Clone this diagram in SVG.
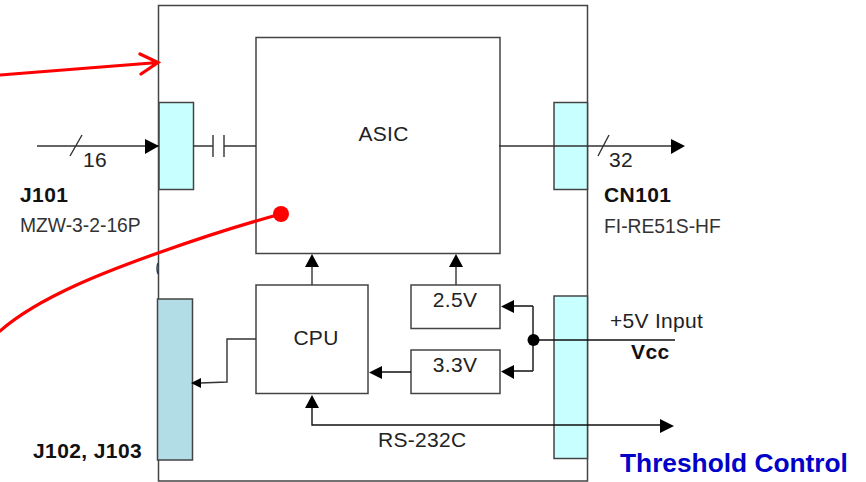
<svg xmlns="http://www.w3.org/2000/svg" width="866" height="482" viewBox="0 0 866 482">
<style>
.b{fill:#fff;stroke:#444;stroke-width:1.5}
.c{fill:#c8ffff;stroke:#444;stroke-width:1.5}
.l{fill:none;stroke:#333;stroke-width:1.4}
.k{fill:none;stroke:#111;stroke-width:1.4}
.h{fill:#000;stroke:none}
.r{fill:none;stroke:#f00;stroke-width:3.2;stroke-linecap:round}
text{font-family:"Liberation Sans",Arial,sans-serif;font-size:21px;fill:#222;letter-spacing:.3px}
.n{font-weight:bold;fill:#111;letter-spacing:.4px}
.s{font-size:19.300px;fill:#333;letter-spacing:0}
</style>
<g id="enclosure"><rect class="b" x="158.500" y="5.500" width="429" height="475.500"/></g>
<g id="asic"><rect class="b" x="256" y="37.500" width="244" height="216"/><text x="383.500" y="141" text-anchor="middle">ASIC</text></g>
<g id="cpu"><rect class="b" x="256" y="285" width="112" height="108.500"/><text x="316" y="345" text-anchor="middle">CPU</text></g>
<g id="reg25"><rect class="b" x="411" y="285" width="89" height="43.500"/><text x="455" y="307" text-anchor="middle">2.5V</text></g>
<g id="reg33"><rect class="b" x="411" y="350" width="89" height="43.500"/><text x="455" y="372" text-anchor="middle">3.3V</text></g>
<g id="j101"><rect class="c" x="159" y="102.500" width="34.500" height="87"/></g>
<g id="cn101"><rect class="c" x="554" y="102.500" width="33.500" height="87"/></g>
<g id="j102"><rect x="157.500" y="299" width="35" height="161" fill="#b3dde6" stroke="#444" stroke-width="1.500"/></g>
<g id="power"><rect class="c" x="554" y="296" width="33.500" height="162.500"/></g>
<g id="connectors">
<path class="l" d="M37 146H159M193 146H213M224 146H256M213 135V157M224 135V157M70 156L82 135"/>
<path class="h" d="M145 139L159 146L145 154Z"/>
<path class="l" d="M499 146H672M598 156L609 135"/>
<path class="h" d="M671 139L685 146L671 154Z"/>
<path class="l" d="M312 285V266M456 285V266M256 339H227V382L200 383"/>
<path class="h" d="M305 267L312 254L319 267ZM449 267L456 254L463 267ZM201 378L191 383L201 388Z"/>
<path class="k" d="M533 340H675M533 306V371M533 306H513M533 371H513M411 372H381M312 405V425H661"/>
<path class="h" d="M514 300L501 306.500L514 313ZM514 365L501 371.500L514 379ZM382 366L369 372.500L382 379ZM305 408L312 395L319 408ZM660 419L674 426L660 433Z"/>
<circle class="h" cx="533.500" cy="340" r="6"/>
<path d="M158 263Q156 268 158 274" fill="none" stroke="#1f3f66" stroke-width="1.500"/>
<path class="r" d="M0 75L158 62.500M140 54L158 62.500L141 74"/>
<path class="r" d="M0 331C40 296 110 270 158 253C200 238 240 225 281 214"/>
<circle cx="281" cy="214" r="8" fill="#f00"/>
</g>
<g id="labels">
<text x="83" y="167">16</text>
<text x="609" y="167">32</text>
<text class="n" x="20" y="202">J101</text>
<text class="s" x="20" y="232">MZW-3-2-16P</text>
<text class="n" x="604" y="202">CN101</text>
<text class="s" x="604" y="233">FI-RE51S-HF</text>
<text class="n" x="33" y="458">J102, J103</text>
<text x="610" y="328">+5V Input</text>
<text class="n" x="631" y="359">Vcc</text>
<text x="378" y="447">RS-232C</text>
<text x="620" y="472" style="font-size:26.300px;font-weight:bold;fill:#0000c8;letter-spacing:0">Threshold Control</text>
</g>
</svg>
